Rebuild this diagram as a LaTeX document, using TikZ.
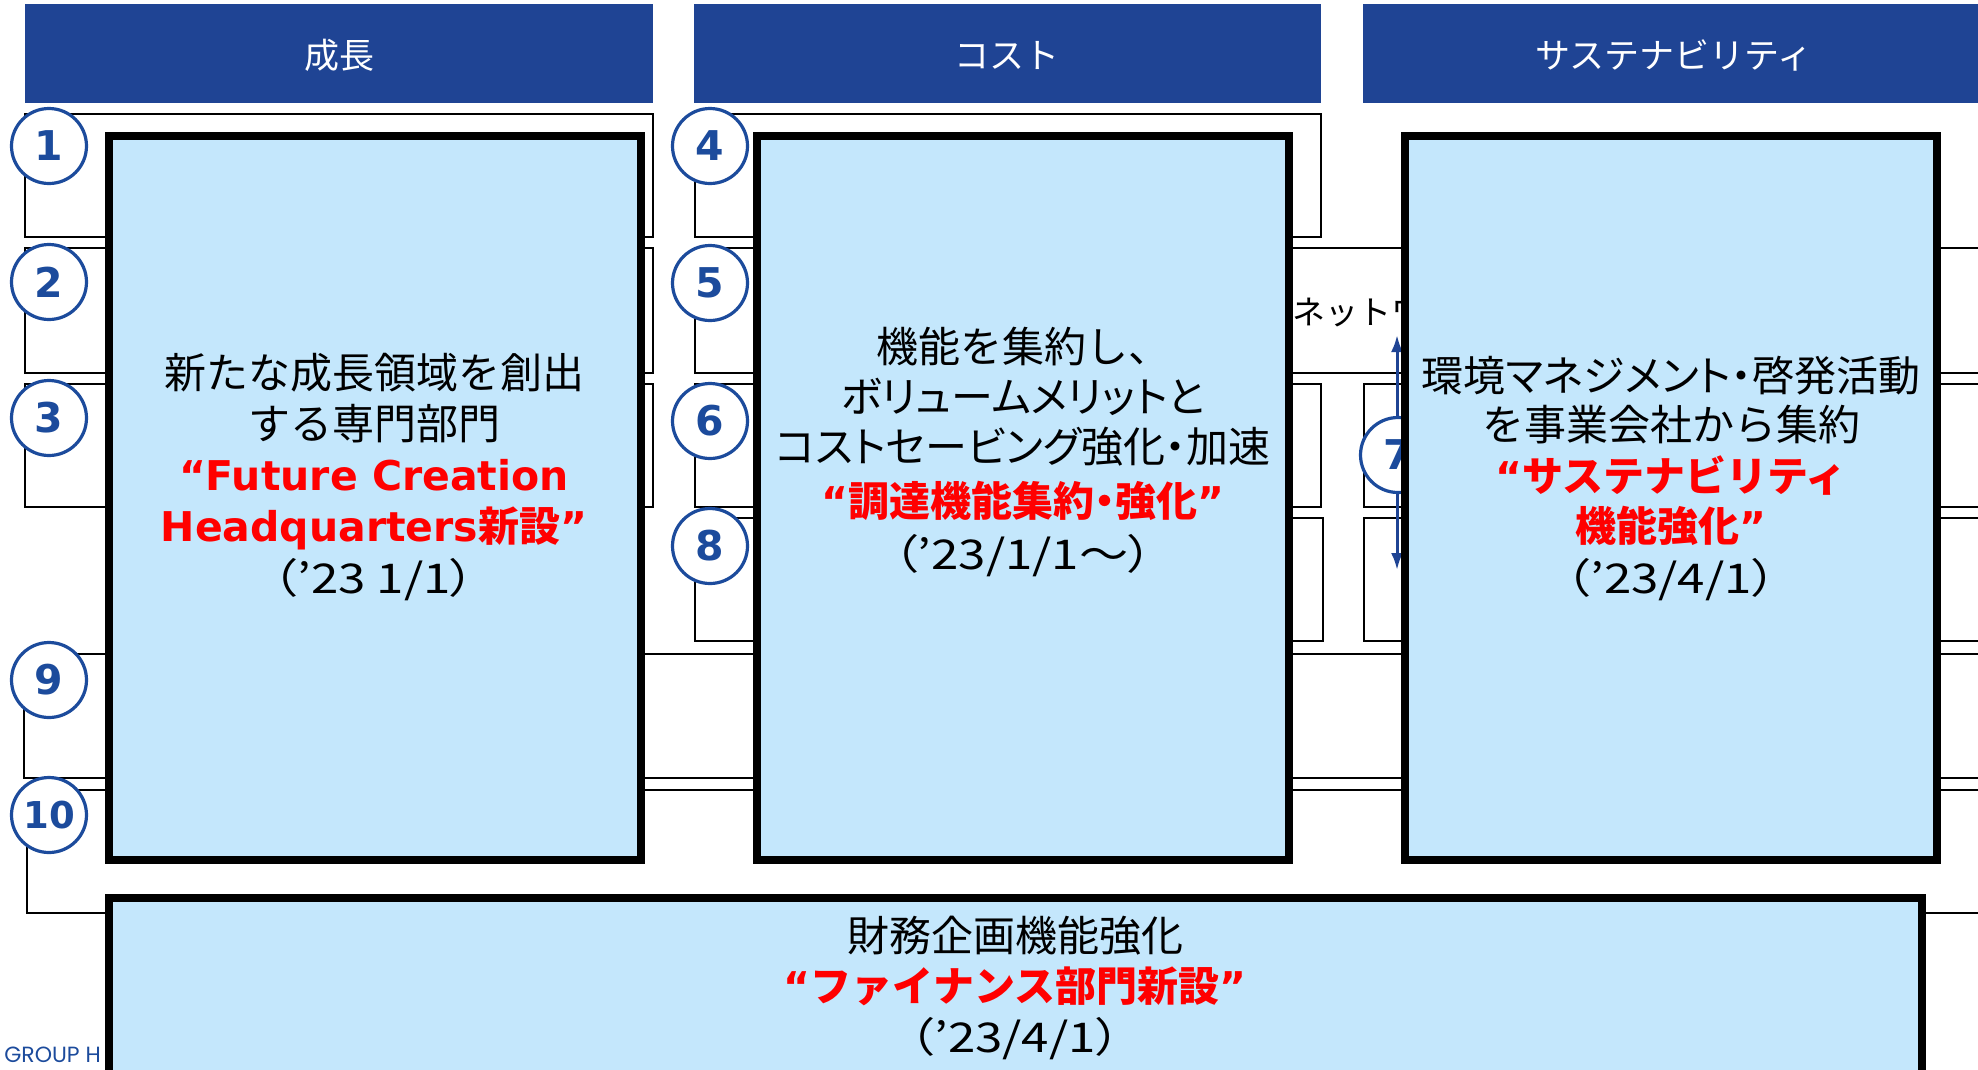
\documentclass[tikz,border=0pt]{standalone}
\usepackage{fontspec}
\usepackage{graphicx}
\usetikzlibrary{arrows.meta}
\newfontfamily\jp{Noto Sans CJK JP}
\newfontfamily\jpp{Noto Sans CJK JP}[RawFeature=+palt]
\newfontfamily\lat{DejaVu Sans}
\newfontfamily\grp{Poppins}
\definecolor{hdr}{HTML}{1F4494}
\definecolor{cblue}{HTML}{1C4B9C}
\definecolor{lblue}{HTML}{C4E7FC}
\definecolor{pred}{HTML}{FF0000}
\newcommand{\wdate}[1]{\scalebox{1.2}[1]{#1}}
\begin{document}
\begin{tikzpicture}[x=1pt,y=-1pt,
  rowbox/.style={draw=black,line width=2pt,fill=white},
  hdrbar/.style={fill=hdr},
  hdrtxt/.style={text=white,font=\jp\fontsize{35}{35}\selectfont,inner sep=0pt},
  numc/.style={circle,draw=cblue,line width=3.2pt,fill=white,minimum size=75pt,inner sep=0pt,text=cblue,font=\lat\bfseries\fontsize{41}{41}\selectfont},
  bigbox/.style={draw=black,line width=8pt,fill=lblue},
  bt/.style={anchor=base,inner sep=0pt,font=\jp\fontsize{42}{42}\selectfont},
  bk/.style={anchor=base,inner sep=0pt,font=\jpp\fontsize{42}{42}\selectfont},
  rt/.style={anchor=base,inner sep=0pt,text=pred,font=\jp\bfseries\fontsize{41}{41}\selectfont},
  dt/.style={anchor=base,inner sep=0pt,font=\jpp\fontsize{41}{41}\selectfont},
]
\useasboundingbox (0,0) rectangle (1978,1069);
\begin{scope}
\clip (0,0) rectangle (1978,1069);
% header bars
\fill[hdrbar] (25,4) rectangle (653,103);
\fill[hdrbar] (694,4) rectangle (1321,103);
\fill[hdrbar] (1363,4) rectangle (1990,103);
\node[hdrtxt] (h1) at (339,55) {成長};
\node[hdrtxt] (h2) at (1007,55) {コスト};
\node[hdrtxt] (h3) at (1674,55) {サステナビリティ};
% row boxes
\draw[rowbox] (25,114) rectangle (653,237);
\draw[rowbox] (25,248) rectangle (653,373);
\draw[rowbox] (25,384) rectangle (653,507);
\draw[rowbox] (695,114) rectangle (1321,237);
\draw[rowbox] (695,248) rectangle (1995,373);
\draw[rowbox] (695,384) rectangle (1321,507);
\draw[rowbox] (695,518) rectangle (1323,641);
\draw[rowbox] (1364,384) rectangle (1995,507);
\draw[rowbox] (1364,518) rectangle (1995,641);
\draw[rowbox] (24,654) rectangle (1995,778);
\draw[rowbox] (27,790) rectangle (1995,913);
\node[anchor=base west,inner sep=0pt,font=\jp\fontsize{33}{33}\selectfont] (net) at (1292,324) {ネットワーク};
% arrow and circle 7
\coordinate (a7t) at (1397,335);
\coordinate (a7b) at (1397,570);
\draw[hdr,line width=3pt,{Latex[length=17pt,width=12pt]}-{Latex[length=17pt,width=12pt]}] (a7t) -- (a7b);
\node[numc] (c7) at (1398,455) {7};
% number circles
\node[numc] (c1) at (49,146) {1};
\node[numc] (c2) at (49,282) {2};
\node[numc] (c3) at (49,418) {3};
\node[numc] (c4) at (710,146) {4};
\node[numc] (c5) at (710,283) {5};
\node[numc] (c6) at (710,421) {6};
\node[numc] (c8) at (710,546) {8};
\node[numc] (c9) at (49,680) {9};
\node[numc,font=\lat\bfseries\fontsize{37}{37}\selectfont] (c10) at (49,815) {10};
% big boxes
\draw[bigbox] (109,136) rectangle (641,860);
\draw[bigbox] (757,136) rectangle (1289,860);
\draw[bigbox] (1405,136) rectangle (1937,860);
\draw[bigbox] (109,898) rectangle (1922,1100);
% box 1 text
\node[bt] (t1a) at (374,388) {新たな成長領域を創出};
\node[bt] (t1b) at (374,439) {する専門部門};
\node[rt,font=\lat\bfseries\fontsize{41}{41}\selectfont] (t1c) at (374,490) {“Future Creation};
\node[rt] (t1d) at (374,541) {{\lat\bfseries Headquarters}新設{\lat\bfseries ”}};
\node[dt] (t1e) at (374,593) {\wdate{（’23 1/1）}};
% box 2 text
\node[bt] (t2a) at (1023,362) {機能を集約し、};
\node[bk] (t2b) at (1023,412) {ボリュームメリットと};
\node[bk] (t2c) at (1023,462) {コストセービング強化・加速};
\node[rt,font=\jpp\bfseries\fontsize{41}{41}\selectfont] (t2d) at (1023,516) {{\lat\bfseries “}調達機能集約・強化{\lat\bfseries ”}};
\node[dt] (t2e) at (1023,569) {\wdate{（’23/1/1～）}};
% box 3 text
\node[bk] (t3a) at (1671,391) {環境マネジメント・啓発活動};
\node[bt] (t3b) at (1671,440) {を事業会社から集約};
\node[rt] (t3c) at (1671,491) {{\lat\bfseries “}サステナビリティ};
\node[rt] (t3d) at (1671,541) {機能強化{\lat\bfseries ”}};
\node[dt] (t3e) at (1671,593) {\wdate{（’23/4/1）}};
% bottom box text
\node[bt] (t4a) at (1015,951) {財務企画機能強化};
\node[rt] (t4b) at (1015,1001) {{\lat\bfseries “}ファイナンス部門新設{\lat\bfseries ”}};
\node[dt] (t4c) at (1015,1052) {\wdate{（’23/4/1）}};
% footer fragment
\node[anchor=base east,inner sep=0pt,text=cblue,font=\grp\fontsize{22}{22}\selectfont] (grp) at (101,1062) {GROUP H};
\end{scope}
\end{tikzpicture}
\end{document}
